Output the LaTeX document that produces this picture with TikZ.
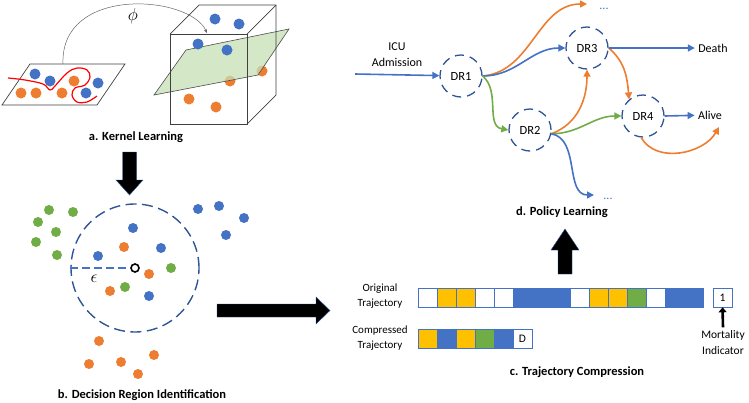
\documentclass[tikz,border=0pt]{standalone}
\usepackage{amsmath}
\usepackage{fontspec}
\setmainfont{Carlito}
\usetikzlibrary{arrows.meta}

\definecolor{ptblue}{HTML}{4472C4}
\definecolor{ptorange}{HTML}{ED7D31}
\definecolor{ptgreen}{HTML}{70AD47}
\definecolor{ptyellow}{HTML}{FFC000}
\definecolor{ringblue}{HTML}{2F5597}
\definecolor{planegreen}{HTML}{C5E0B4}

\begin{document}
\begin{tikzpicture}[x = 1pt, y = -1pt, font = \fontsize{12}{14}\selectfont,
    bdot/.style = {fill = ptblue},
    odot/.style = {fill = ptorange},
    gdot/.style = {fill = ptgreen},
    edge/.style = {draw = black!75, line width = 0.7pt},
    title/.style = {font = \fontsize{12.5}{14}\selectfont\bfseries},
    side/.style = {align = center, font = \fontsize{11}{15}\selectfont},
    region/.style = {circle, draw = ringblue, line width = 1.3pt, dash pattern = on 9pt off 6pt, minimum size = 42pt, inner sep = 0, font = \fontsize{12.5}{14}\selectfont},
    bflow/.style = {ptblue, line width = 1.6pt, -{Triangle[length = 7pt, width = 7pt]}},
    oflow/.style = {ptorange, line width = 1.6pt, -{Triangle[length = 7pt, width = 7pt]}},
    gflow/.style = {ptgreen, line width = 1.6pt, -{Triangle[length = 7pt, width = 7pt]}},
    cell/.style = {draw = ptblue, line width = 0.6pt},
    cellbox/.style = {cell, minimum size = 19pt, inner sep = 0, font = \fontsize{11.5}{14}\selectfont},
    blockarrow/.style = {fill = black, draw = ringblue, line width = 0.4pt}]
    \useasboundingbox (0,0) rectangle (749,402);

    % a. kernel learning
    \draw [edge] (30,64) -- (125,64) -- (97,105) -- (2,105) -- cycle;
    \fill [bdot] (35,74) circle(5.5pt);
    \fill [bdot] (50,81) circle(5.5pt);
    \fill [bdot] (98,83) circle(5.5pt);
    \fill [bdot] (86,93) circle(5.5pt);
    \fill [odot] (21,93) circle(5.5pt);
    \fill [odot] (36,93) circle(5.5pt);
    \fill [odot] (62,93) circle(5.5pt);
    \fill [odot] (74,81) circle(5.5pt);
    \draw [red, line width = 1.2pt] plot [smooth, tension = 0.6] coordinates {(8,78) (25,80) (43,84) (50,90) (55,86) (67,73) (77,68) (87,70) (90,77) (85,85) (75,88) (72,95) (77,102) (87,102) (97,96)};

    \fill [odot] (230,81) circle(5.5pt);
    \fill [odot] (262,71) circle(5.5pt);
    \fill [odot] (189,99) circle(5.5pt);
    \fill [odot] (216,107) circle(5.5pt);
    \filldraw [fill = planegreen, fill opacity = 0.75, draw = black!70, line width = 0.6pt] (186,50) -- (289,29) -- (258,75) -- (154,95) -- cycle;
    \draw [edge] (170,34) rectangle (247,124);
    \draw [edge] (170,34) -- (199,5) -- (276,5) -- (276,95) -- (247,124);
    \draw [edge] (247,34) -- (276,5);
    \fill [bdot] (215,19) circle(5.5pt);
    \fill [bdot] (239,24) circle(5.5pt);
    \fill [bdot] (198,44) circle(5.5pt);
    \fill [bdot] (227,50) circle(5.5pt);

    \coordinate (planetop) at (63,64);
    \coordinate (cubetop) at (207,33);
    \draw [black!60, line width = 0.5pt, -{Stealth[length = 4pt, width = 3.5pt]}] (planetop) .. controls (60,-15) and (190,-5) .. (cubetop);
    \node (phi) at (133,16) {\fontsize{17}{17}\selectfont$\phi$};

    \node [title] (titlea) at (136,137) {a. Kernel Learning};

    \filldraw [blockarrow] (122.5,152) -- (136.5,152) -- (136.5,180) -- (143,180) -- (129.5,195) -- (116,180) -- (122.5,180) -- cycle;

    % b. decision region identification
    \node [circle, draw = ringblue, line width = 1.4pt, dash pattern = on 11pt off 5.5pt, minimum size = 128pt] (region) at (135,268) {};
    \node [circle, draw = black, line width = 1.6pt, minimum size = 8pt, inner sep = 0] (centre) at (135,268) {};
    \draw [ptblue, line width = 1.3pt, dash pattern = on 8pt off 4pt] (region.west) -- (centre.west);
    \node (eps) at (94,279) {\fontsize{16}{16}\selectfont$\epsilon$};

    \fill [gdot] (49,210) circle(5pt);
    \fill [gdot] (73,212) circle(5pt);
    \fill [gdot] (38,222) circle(5pt);
    \fill [gdot] (56,232) circle(5pt);
    \fill [gdot] (36,242) circle(5pt);
    \fill [gdot] (57,255) circle(5pt);
    \fill [gdot] (171,268) circle(5pt);
    \fill [gdot] (125,287) circle(5pt);
    \fill [bdot] (133,228) circle(5pt);
    \fill [bdot] (98,256) circle(5pt);
    \fill [bdot] (161,248) circle(5pt);
    \fill [bdot] (149,296) circle(5pt);
    \fill [bdot] (198,209) circle(5pt);
    \fill [bdot] (219,206) circle(5pt);
    \fill [bdot] (244,218) circle(5pt);
    \fill [bdot] (226,235) circle(5pt);
    \fill [odot] (124,247) circle(5pt);
    \fill [odot] (149,274) circle(5pt);
    \fill [odot] (110,291) circle(5pt);
    \fill [odot] (99,341) circle(5pt);
    \fill [odot] (154,355) circle(5pt);
    \fill [odot] (89,364) circle(5pt);
    \fill [odot] (121,362) circle(5pt);
    \fill [odot] (138,374) circle(5pt);

    \node [title] (titleb) at (142,395) {b. Decision Region Identification};

    \filldraw [blockarrow] (217,304) -- (316,304) -- (316,297) -- (330,310.5) -- (316,324) -- (316,317) -- (217,317) -- cycle;

    % c. trajectory compression
    \node [side] (orig) at (380,296) {Original\\Trajectory};
    \node [side] (comp) at (380,338) {Compressed\\Trajectory};

    \draw [cell, fill = white] (418,288) rectangle +(19,19);
    \draw [cell, fill = ptyellow] (437,288) rectangle +(19,19);
    \draw [cell, fill = ptyellow] (456,288) rectangle +(19,19);
    \draw [cell, fill = white] (475,288) rectangle +(19,19);
    \draw [cell, fill = white] (494,288) rectangle +(19,19);
    \draw [cell, fill = ptblue] (513,288) rectangle +(19,19);
    \draw [cell, fill = ptblue] (532,288) rectangle +(19,19);
    \draw [cell, fill = ptblue] (551,288) rectangle +(19,19);
    \draw [cell, fill = white] (570,288) rectangle +(19,19);
    \draw [cell, fill = ptyellow] (589,288) rectangle +(19,19);
    \draw [cell, fill = ptyellow] (608,288) rectangle +(19,19);
    \draw [cell, fill = ptgreen] (627,288) rectangle +(19,19);
    \draw [cell, fill = white] (646,288) rectangle +(19,19);
    \draw [cell, fill = ptblue] (665,288) rectangle +(19,19);
    \draw [cell, fill = ptblue] (684,288) rectangle +(19,19);

    \draw [cell, fill = ptyellow] (418,329) rectangle +(19,19);
    \draw [cell, fill = ptblue] (437,329) rectangle +(19,19);
    \draw [cell, fill = ptyellow] (456,329) rectangle +(19,19);
    \draw [cell, fill = ptgreen] (475,329) rectangle +(19,19);
    \draw [cell, fill = ptblue] (494,329) rectangle +(19,19);
    \node [cellbox] (dbox) at (522.5,338.5) {D};

    \node [cellbox] (one) at (722.5,297.5) {1};
    \node [side, font = \fontsize{11.5}{16}\selectfont] (mort) at (723,343) {Mortality\\Indicator};
    \draw [line width = 2.6pt, -{Triangle[length = 5pt, width = 8pt]}] (mort.north) -- (one.south);

    \node [title] (titlec) at (577,372) {c. Trajectory Compression};

    \filldraw [blockarrow] (558,274) -- (558,250) -- (551,250) -- (565,229) -- (579,250) -- (572,250) -- (572,274) -- cycle;

    % d. policy learning
    \node [region] (dr1) at (461,76) {DR1};
    \node [region] (dr2) at (530,130) {DR2};
    \node [region] (dr3) at (587,48) {DR3};
    \node [region] (dr4) at (643,116) {DR4};

    \node [align = center, font = \fontsize{12}{16}\selectfont] (icu) at (397,55) {ICU\\Admission};
    \node (death) at (713,48) {Death};
    \node (alive) at (710,115) {Alive};
    \node [text = ptblue, inner sep = 1pt] (topdots) at (604,9) {...};
    \node [text = ptblue, inner sep = 1pt] (botdots) at (608,199) {...};
    \coordinate (icustart) at (355,74);
    \coordinate (topend) at (587,4);
    \coordinate (botend) at (594,195);
    \coordinate (aliveend) at (719,127);

    \draw [bflow] (icustart) -- (dr1);
    \draw [oflow] (dr1.east) to [out = 5, in = 180] (topend);
    \draw [bflow] (dr1.east) to [out = 0, in = 180] (dr3.west);
    \draw [gflow] (dr1.east) to [out = -40, in = 170] (dr2.west);
    \draw [oflow] (dr2.-10) to [out = 20, in = -90] (dr3.south);
    \draw [gflow] (dr2.-10) to [out = 0, in = 180] (dr4.west);
    \draw [bflow] (dr2.-10) to [out = -10, in = 180] (botend);
    \draw [oflow] (dr3.east) to [out = -40, in = 95] (dr4.130);
    \draw [bflow] (dr3.east) -- (death);
    \draw [bflow] (dr4.east) -- (alive);
    \draw [oflow] (dr4.-95) to [out = -60, in = -120] (aliveend);

    \node [title] (titled) at (562,212) {d. Policy Learning};
\end{tikzpicture}
\end{document}
